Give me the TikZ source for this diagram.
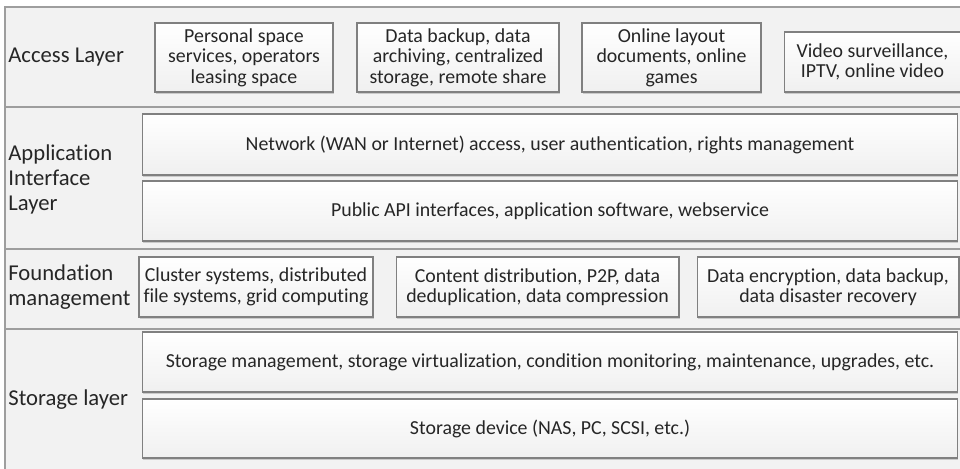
\documentclass[tikz,border=0pt]{standalone}
\usepackage{fontspec}
\setmainfont{Carlito}[Ligatures=NoCommon]
\usetikzlibrary{shadows}
\definecolor{layerbg}{HTML}{F2F2F2}
\definecolor{inkgray}{HTML}{262626}

\begin{document}
\begin{tikzpicture}[x=0.02cm,y=-0.02cm,
    layer/.style={draw=black!38, fill=layerbg, line width=0.8pt, minimum width=19.2cm, inner sep=0pt},
    item/.style={draw=black!50, line width=0.6pt, top color=white, bottom color=black!6,
      align=center, inner sep=0pt, text=inkgray, font=\fontsize{11.3}{11.7}\selectfont,
      drop shadow={opacity=0.35, shadow xshift=0.3pt, shadow yshift=-1pt}},
    lbl/.style={anchor=west, align=left, inner sep=0pt, text=inkgray, font=\fontsize{12.9}{14.2}\selectfont}]
    \useasboundingbox (0,0) rectangle (960,468);
    % layers
    \node[layer, minimum height=2cm] (access) at (485,57) {};
    \node[layer, minimum height=2.84cm] (appif) at (485,178) {};
    \node[layer, minimum height=1.6cm] (found) at (485,289) {};
    \node[layer, minimum height=2.82cm] (storage) at (485,399.5) {};
    % layer names
    \node[lbl] (accesslbl) at (8,57) {Access Layer};
    \node[lbl] (appiflbl) at (8,179) {Application\\Interface\\Layer};
    \node[lbl] (foundlbl) at (8,287) {Foundation\\management};
    \node[lbl] (storagelbl) at (8,400) {Storage layer};
    % access layer
    \node[item, minimum width=3.56cm, minimum height=1.38cm] (personal) at (244,57.5) {Personal space\\services, operators\\leasing space};
    \node[item, minimum width=4.04cm, minimum height=1.38cm] (backup) at (458,57.5) {Data backup, data\\archiving, centralized\\storage, remote share};
    \node[item, minimum width=3.58cm, minimum height=1.38cm] (layout) at (671.5,57.5) {Online layout\\documents, online\\games};
    \node[item, minimum width=3.54cm, minimum height=1.2cm] (video) at (872.5,62) {Video surveillance,\\IPTV, online video};
    % application interface layer
    \node[item, minimum width=16.32cm, minimum height=1.22cm] (network) at (550,144.5) {Network (WAN or Internet) access, user authentication, rights management};
    \node[item, minimum width=16.32cm, minimum height=1.2cm] (api) at (550,211) {Public API interfaces, application software, webservice};
    % foundation management
    \node[item, minimum width=4.68cm, minimum height=1.2cm] (cluster) at (256,287) {Cluster systems, distributed\\file systems, grid computing};
    \node[item, minimum width=5.66cm, minimum height=1.2cm] (content) at (537.5,287) {Content distribution, P2P, data\\deduplication, data compression};
    \node[item, minimum width=5.24cm, minimum height=1.2cm] (encrypt) at (828,287) {Data encryption, data backup,\\data disaster recovery};
    % storage layer
    \node[item, minimum width=16.32cm, minimum height=1.2cm] (storemgmt) at (550,362) {Storage management, storage virtualization, condition monitoring, maintenance, upgrades, etc.};
    \node[item, minimum width=16.32cm, minimum height=1.18cm] (device) at (550,428.5) {Storage device (NAS, PC, SCSI, etc.)};
\end{tikzpicture}
\end{document}
